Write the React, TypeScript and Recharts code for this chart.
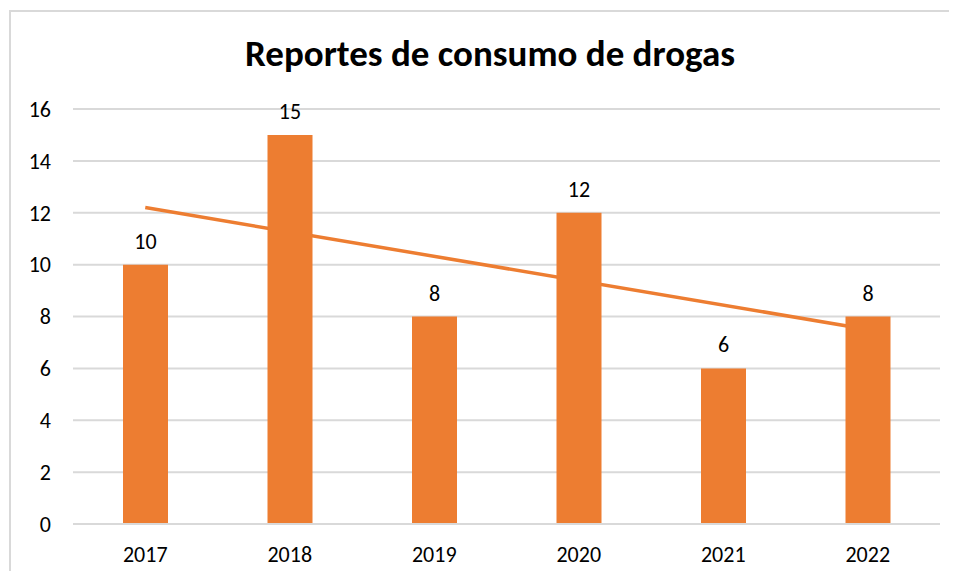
import { ComposedChart, Bar, Line, CartesianGrid, XAxis, YAxis, LabelList } from "recharts";

// data
const years = ["2017", "2018", "2019", "2020", "2021", "2022"];
const reportes = [10, 15, 8, 12, 6, 8];
// linear trend line: only its two ends are drawn
const tendencia = [12.2, null, null, null, null, 7.5];
const yTicks = [0, 2, 4, 6, 8, 10, 12, 14, 16];

const data = years.map((y, i) => ({ year: y, reportes: reportes[i], tendencia: tendencia[i] }));

const ORANGE = "#ED7D31";
const FONT = "Carlito, Lato, 'Liberation Sans', sans-serif";

export default function App() {
    return (
        <div style={{ position: "relative", width: 957, height: 579, margin: -8, overflow: "hidden", background: "#fff", fontFamily: FONT }}>
            <div style={{ position: "absolute", left: 9, top: 10, width: 980, height: 620, border: "2px solid #d9d9d9" }} />
            <div style={{ position: "absolute", left: 0, top: 31, width: 980, textAlign: "center", fontSize: 37, fontWeight: 700, color: "#000", lineHeight: "46px" }}>
                Reportes de consumo de drogas
            </div>
            <ComposedChart
                data={data}
                width={957}
                height={579}
                margin={{ top: 109, right: 17, bottom: 25, left: 0 }}
                style={{ position: "absolute", left: 0, top: 0 }}
            >
                <CartesianGrid vertical={false} stroke="#d9d9d9" strokeWidth={2} />
                <XAxis
                    dataKey="year"
                    axisLine={{ stroke: "#d9d9d9", strokeWidth: 2 }}
                    tickLine={false}
                    tickMargin={16}
                    tick={{ fill: "#000", fontSize: 22, fontFamily: FONT }}
                />
                <YAxis
                    domain={[0, 16]}
                    ticks={yTicks}
                    width={73}
                    axisLine={false}
                    tickLine={false}
                    tickMargin={16}
                    tick={{ fill: "#000", fontSize: 22, fontFamily: FONT }}
                />
                <Line
                    dataKey="tendencia"
                    type="linear"
                    stroke={ORANGE}
                    strokeWidth={3.5}
                    dot={false}
                    connectNulls
                    isAnimationActive={false}
                    zIndex={250}
                />
                <Bar dataKey="reportes" fill={ORANGE} barSize={45} isAnimationActive={false}>
                    <LabelList dataKey="reportes" position="top" offset={16} fill="#000" fontSize={22} fontFamily={FONT} />
                </Bar>
            </ComposedChart>
        </div>
    );
}
